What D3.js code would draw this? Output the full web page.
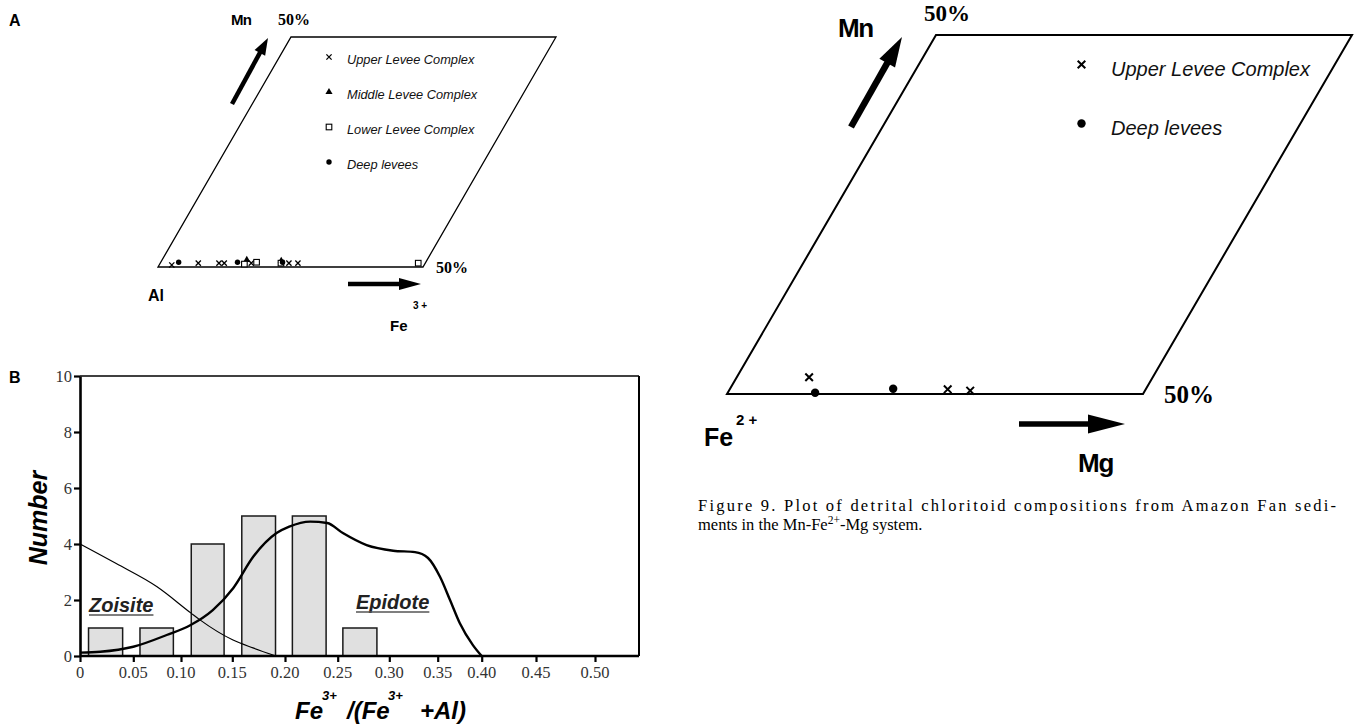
<!DOCTYPE html>
<html>
<head>
<meta charset="utf-8">
<script src="https://cdn.jsdelivr.net/npm/d3@7"></script>
<style>
  body { margin: 0; background: #fff; }
  svg { display: block; }
  .sans { font-family: "Liberation Sans", Arial, sans-serif; }
  .serif { font-family: "Liberation Serif", "Times New Roman", serif; }
</style>
</head>
<body>
<div id="chart"></div>
<script>
// ---- data ----
// panel A: [Fe3+ %, Mn %] along the Al - Fe3+ edge
var upperA = [[2.6, 0.0], [7.4, 0.4], [11.3, 0.4], [12.3, 0.4], [17.4, 0.4], [24.5, 0.4], [26.2, 0.4]];
var middleA = [[16.2, 1.1], [22.8, 0.9]];
var lowerA = [[16.2, 0.2], [18.3, 0.6], [23.0, 0.4], [48.9, 0.4]];
var deepA = [[3.6, 0.6], [14.7, 0.6], [23.2, 0.6]];
var legendA = ["Upper Levee Complex", "Middle Levee Complex", "Lower Levee Complex", "Deep levees"];

// panel B: histogram of Fe3+/(Fe3+ + Al)
var binLo = [0.008, 0.057, 0.110, 0.159, 0.207, 0.255];
var binHi = [0.040, 0.092, 0.142, 0.191, 0.239, 0.288];
var binCounts = [1, 1, 4, 5, 5, 1];
var xTicks = [0, 0.05, 0.10, 0.15, 0.20, 0.25, 0.30, 0.35, 0.40, 0.45, 0.50];
var yTicks = [0, 2, 4, 6, 8, 10];
var zoisiteCurve = [[0, 4.0], [0.034, 3.3], [0.0745, 2.48], [0.1095, 1.54], [0.1185, 1.29], [0.1507, 0.57], [0.1696, 0.29], [0.1915, 0]];
var epidoteCurve = [[0, 0.12], [0.019, 0.15], [0.050, 0.33], [0.085, 0.75], [0.109, 1.1], [0.131, 1.64], [0.151, 2.43],
    [0.170, 3.55], [0.192, 4.39], [0.204, 4.62], [0.224, 4.8], [0.240, 4.75], [0.255, 4.39], [0.278, 3.96], [0.304, 3.76],
    [0.3265, 3.71], [0.340, 3.5], [0.3526, 2.83], [0.364, 2.0], [0.375, 1.18], [0.390, 0.39], [0.400, 0]];

// figure 9: [Mg %, Mn %] along the Fe2+ - Mg edge
var upper9 = [[8.7, 2.33], [26.2, 0.65], [29.0, 0.46]];
var deep9 = [[10.5, 0.18], [19.6, 0.74]];
var legend9 = ["Upper Levee Complex", "Deep levees"];

var captionLine1 = "Figure 9. Plot of detrital chloritoid compositions from Amazon Fan sedi-";

// ---- svg ----
var svg = d3.select("#chart").append("svg")
    .attr("width", 1354)
    .attr("height", 728);

function arrow(g, x1, y1, x2, y2, bodyW, headL, headW) {
    var dx = x2 - x1, dy = y2 - y1;
    var len = Math.sqrt(dx * dx + dy * dy);
    var ux = dx / len, uy = dy / len;
    var bx = x2 - ux * headL, by = y2 - uy * headL;
    g.append("line")
        .attr("x1", x1).attr("y1", y1)
        .attr("x2", bx + ux * 2).attr("y2", by + uy * 2)
        .attr("stroke", "#000").attr("stroke-width", bodyW);
    g.append("path")
        .attr("d", "M" + x2 + "," + y2 +
            "L" + (bx - uy * headW) + "," + (by + ux * headW) +
            "L" + (bx + uy * headW) + "," + (by - ux * headW) + "Z")
        .attr("fill", "#000");
}

function crossPath(a) {
    return "M" + (-a) + "," + (-a) + "L" + a + "," + a + "M" + (-a) + "," + a + "L" + a + "," + (-a);
}

// ================= panel A =================
var gA = svg.append("g");
var alongA = d3.scaleLinear().domain([0, 50]).range([158, 423]);
var upA = d3.scaleLinear().domain([0, 50]).range([0, 1]);
var shiftA = [133, -230];
function posA(d) {
    var f = upA(d[1]);
    return [alongA(d[0]) + f * shiftA[0], 267 + f * shiftA[1]];
}

gA.append("path")
    .attr("d", d3.line()([posA([0, 0]), posA([50, 0]), posA([50, 50]), posA([0, 50])]) + "Z")
    .attr("fill", "none").attr("stroke", "#000").attr("stroke-width", 1.3);

gA.append("text").attr("class", "sans").attr("x", 9).attr("y", 26)
    .attr("font-size", 16).attr("font-weight", "bold").text("A");
gA.append("text").attr("class", "sans").attr("x", 231).attr("y", 25)
    .attr("font-size", 15).attr("font-weight", "bold").attr("letter-spacing", -0.8).text("Mn");
gA.append("text").attr("class", "serif").attr("x", 278).attr("y", 25)
    .attr("font-size", 16).attr("font-weight", "bold").text("50%");
gA.append("text").attr("class", "serif").attr("x", 436).attr("y", 273)
    .attr("font-size", 16).attr("font-weight", "bold").text("50%");
gA.append("text").attr("class", "sans").attr("x", 148).attr("y", 301)
    .attr("font-size", 16).attr("font-weight", "bold").text("Al");
gA.append("text").attr("class", "sans").attr("x", 390).attr("y", 331)
    .attr("font-size", 15).attr("font-weight", "bold").text("Fe");
gA.append("text").attr("class", "sans").attr("x", 413).attr("y", 309)
    .attr("font-size", 10).attr("font-weight", "bold").text("3 +");

arrow(gA, 232, 104, 268, 38, 4.5, 17, 6);
arrow(gA, 348, 284, 421, 284, 4.5, 22, 6);

// legend A
var legAy = [57, 92, 127, 162];
gA.selectAll(".legA").data(legendA).enter().append("text")
    .attr("class", "sans")
    .attr("x", 347).attr("y", function(d, i) { return legAy[i] + 7; })
    .attr("font-size", 12.8).attr("font-style", "italic").attr("fill", "#111")
    .text(function(d) { return d; });

function drawA(g, x, y, kind) {
    if (kind === 0) {
        g.append("path").attr("transform", "translate(" + x + "," + y + ")")
            .attr("d", crossPath(2.6)).attr("stroke", "#000").attr("stroke-width", 1.3);
    } else if (kind === 1) {
        g.append("path").attr("transform", "translate(" + x + "," + y + ")")
            .attr("d", d3.symbol().type(d3.symbolTriangle).size(22)()).attr("fill", "#000");
    } else if (kind === 2) {
        g.append("rect").attr("x", x - 2.8).attr("y", y - 2.8).attr("width", 5.6).attr("height", 5.6)
            .attr("fill", "#fff").attr("stroke", "#000").attr("stroke-width", 1.1);
    } else {
        g.append("circle").attr("cx", x).attr("cy", y).attr("r", 2.7).attr("fill", "#000");
    }
}
legAy.forEach(function(y, i) { drawA(gA, 329, y, i); });

[upperA, middleA, lowerA, deepA].forEach(function(set, k) {
    set.forEach(function(d) {
        var p = posA(d);
        drawA(gA, p[0], p[1] - 2, k);
    });
});

// ================= panel B =================
var gB = svg.append("g");
// the printed axis is not evenly spaced, so the scale follows the drawn tick marks
var x = d3.scaleLinear()
    .domain([0, 0.05, 0.10, 0.15, 0.20, 0.25, 0.30, 0.35, 0.40, 0.45, 0.50, 0.537])
    .range([80, 133.3, 181, 232.3, 285, 337.7, 389.3, 437.7, 481.7, 536, 595, 639]);
var xMax = 0.537;
var y = d3.scaleLinear().domain([0, 10]).range([656, 376]);

gB.append("text").attr("class", "sans").attr("x", 9).attr("y", 383)
    .attr("font-size", 16).attr("font-weight", "bold").text("B");

// frame
gB.append("line").attr("x1", x(0)).attr("x2", x(xMax)).attr("y1", y(10)).attr("y2", y(10))
    .attr("stroke", "#000").attr("stroke-width", 1.3);
gB.append("line").attr("x1", x(xMax)).attr("x2", x(xMax)).attr("y1", y(10)).attr("y2", y(0))
    .attr("stroke", "#000").attr("stroke-width", 2);

// bars
gB.selectAll(".bar").data(binCounts).enter().append("rect")
    .attr("x", function(d, i) { return x(binLo[i]); })
    .attr("width", function(d, i) { return x(binHi[i]) - x(binLo[i]); })
    .attr("y", function(d) { return y(d); })
    .attr("height", function(d) { return y(0) - y(d); })
    .attr("fill", "#e0e0e0").attr("stroke", "#1a1a1a").attr("stroke-width", 1.5);

// curves
var line = d3.line()
    .x(function(d) { return x(d[0]); })
    .y(function(d) { return y(d[1]); })
    .curve(d3.curveMonotoneX);
gB.append("path").attr("d", line(zoisiteCurve))
    .attr("fill", "none").attr("stroke", "#000").attr("stroke-width", 1.2);
gB.append("path").attr("d", line(epidoteCurve))
    .attr("fill", "none").attr("stroke", "#000").attr("stroke-width", 2.4);

// axes (tick marks from d3, labels drawn separately)
var yAxis = gB.append("g").attr("transform", "translate(" + x(0) + ",0)")
    .call(d3.axisLeft(y).tickValues(yTicks).tickSize(6).tickSizeOuter(0).tickFormat(""));
var xAxis = gB.append("g").attr("transform", "translate(0," + y(0) + ")")
    .call(d3.axisBottom(x).tickValues(xTicks).tickSize(6).tickSizeOuter(0).tickFormat(""));
[yAxis, xAxis].forEach(function(ax) {
    ax.select(".domain").attr("stroke", "#000").attr("stroke-width", 2.6);
    ax.selectAll(".tick line").attr("stroke", "#000").attr("stroke-width", 2.2);
});
xAxis.select(".domain").attr("d", "M" + x(0) + ",0H" + x(xMax));

gB.selectAll(".ylab").data(yTicks).enter().append("text")
    .attr("class", "serif")
    .attr("x", x(0) - 8).attr("y", function(d) { return y(d) + 5.5; })
    .attr("text-anchor", "end").attr("font-size", 16.5).attr("fill", "#333")
    .text(function(d) { return d; });
gB.selectAll(".xlab").data(xTicks).enter().append("text")
    .attr("class", "serif")
    .attr("x", function(d) { return x(d); }).attr("y", 678)
    .attr("text-anchor", "middle").attr("font-size", 16.5).attr("fill", "#333")
    .text(function(d) { return d === 0 ? "0" : d3.format(".2f")(d); });

// labels
function underlined(g, tx, ty, str) {
    var t = g.append("text").attr("class", "sans").attr("x", tx).attr("y", ty)
        .attr("font-size", 20).attr("font-weight", "bold").attr("font-style", "italic")
        .attr("fill", "#222").text(str);
    var w = t.node().getComputedTextLength();
    g.append("line").attr("x1", tx).attr("x2", tx + w).attr("y1", ty + 3).attr("y2", ty + 3)
        .attr("stroke", "#555").attr("stroke-width", 1.6);
}
underlined(gB, 89, 612, "Zoisite");
underlined(gB, 356, 609, "Epidote");

gB.append("text").attr("class", "sans")
    .attr("transform", "translate(47,518) rotate(-90)")
    .attr("text-anchor", "middle")
    .attr("font-size", 25).attr("font-weight", "bold").attr("font-style", "italic")
    .text("Number");

var xl = gB.append("text").attr("class", "sans")
    .attr("font-weight", "bold").attr("font-style", "italic");
[["Fe", 295, 719, 24], ["3+", 322, 700, 13], ["/(Fe", 347, 719, 24], ["3+", 388, 700, 13], ["+Al)", 420, 719, 24]]
    .forEach(function(p) {
        xl.append("tspan").attr("x", p[1]).attr("y", p[2]).attr("font-size", p[3]).text(p[0]);
    });

// ================= figure 9 =================
var g9 = svg.append("g");
var along9 = d3.scaleLinear().domain([0, 50]).range([727, 1143]);
var up9 = d3.scaleLinear().domain([0, 50]).range([0, 1]);
var shift9 = [209, -359];
function pos9(d) {
    var f = up9(d[1]);
    return [along9(d[0]) + f * shift9[0], 394 + f * shift9[1]];
}

g9.append("path")
    .attr("d", d3.line()([pos9([0, 0]), pos9([50, 0]), pos9([50, 50]), pos9([0, 50])]) + "Z")
    .attr("fill", "none").attr("stroke", "#000").attr("stroke-width", 2);

g9.append("text").attr("class", "serif").attr("x", 924).attr("y", 21)
    .attr("font-size", 23).attr("font-weight", "bold").text("50%");
g9.append("text").attr("class", "sans").attr("x", 838).attr("y", 37)
    .attr("font-size", 26).attr("font-weight", "bold").attr("letter-spacing", -1.5).text("Mn");
g9.append("text").attr("class", "serif").attr("x", 1164).attr("y", 403)
    .attr("font-size", 25).attr("font-weight", "bold").text("50%");
g9.append("text").attr("class", "sans").attr("x", 704).attr("y", 446)
    .attr("font-size", 25).attr("font-weight", "bold").text("Fe");
g9.append("text").attr("class", "sans").attr("x", 736).attr("y", 425)
    .attr("font-size", 15).attr("font-weight", "bold").text("2 +");
g9.append("text").attr("class", "sans").attr("x", 1078).attr("y", 472)
    .attr("font-size", 26).attr("font-weight", "bold").attr("letter-spacing", -1.2).text("Mg");

arrow(g9, 851, 127, 902, 37, 6.5, 30, 9);
arrow(g9, 1019, 424, 1125, 424, 5.5, 37, 9.5);

// legend 9
var leg9y = [64.5, 123.5];
g9.selectAll(".leg9").data(legend9).enter().append("text")
    .attr("class", "sans")
    .attr("x", 1111).attr("y", function(d, i) { return leg9y[i] + 11; })
    .attr("font-size", 20).attr("font-style", "italic").attr("fill", "#111")
    .text(function(d) { return d; });

function draw9(g, px, py, kind) {
    if (kind === 0) {
        g.append("path").attr("transform", "translate(" + px + "," + py + ")")
            .attr("d", crossPath(3.8)).attr("stroke", "#000").attr("stroke-width", 2);
    } else {
        g.append("circle").attr("cx", px).attr("cy", py).attr("r", 4.2).attr("fill", "#000");
    }
}
leg9y.forEach(function(yy, i) { draw9(g9, 1081.5, yy, i); });
[upper9, deep9].forEach(function(set, k) {
    set.forEach(function(d) {
        var p = pos9(d);
        draw9(g9, p[0], p[1], k);
    });
});

// caption, first line justified
g9.append("text").attr("class", "serif").attr("x", 698).attr("y", 511)
    .attr("font-size", 16.5).attr("textLength", 638).attr("lengthAdjust", "spacing")
    .text(captionLine1);
var cap2 = g9.append("text").attr("class", "serif").attr("x", 698).attr("y", 530).attr("font-size", 16.5);
cap2.append("tspan").text("ments in the Mn-Fe");
cap2.append("tspan").attr("dy", -6).attr("font-size", 11.5).text("2+");
cap2.append("tspan").attr("dy", 6).text("-Mg system.");
</script>
</body>
</html>
